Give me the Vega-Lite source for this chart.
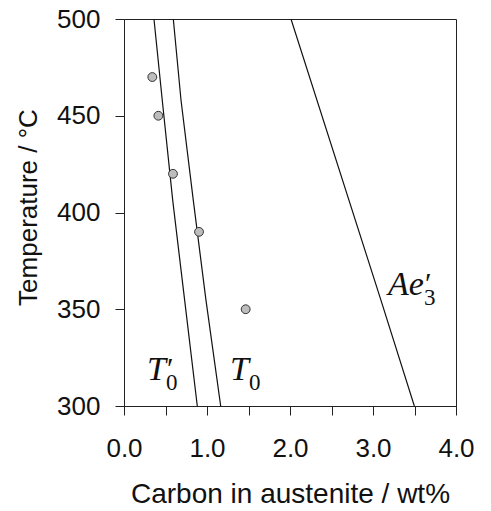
{
  "$schema": "https://vega.github.io/schema/vega-lite/v6.json",
  "width": 332,
  "height": 387,
  "autosize": "none",
  "padding": {"left": 124, "top": 19, "right": 35, "bottom": 105},
  "background": "white",
  "config": {
    "view": {"stroke": "#222", "strokeWidth": 1},
    "axis": {
      "grid": false,
      "domainColor": "#222",
      "tickColor": "#222",
      "tickSize": 9,
      "labelFlush": false,
      "labelOverlap": false,
      "labelFont": "Liberation Sans",
      "titleFont": "Liberation Sans",
      "labelColor": "#111",
      "titleColor": "#111",
      "titleFontWeight": "normal"
    }
  },
  "datasets": {
    "curves": [
      {"series": "T0p", "C": 0.361, "T": 500},
      {"series": "T0p", "C": 0.461, "T": 458},
      {"series": "T0p", "C": 0.587, "T": 406.3},
      {"series": "T0p", "C": 0.731, "T": 354.6},
      {"series": "T0p", "C": 0.883, "T": 300},
      {"series": "T0", "C": 0.594, "T": 500},
      {"series": "T0", "C": 0.687, "T": 458},
      {"series": "T0", "C": 0.835, "T": 406.3},
      {"series": "T0", "C": 0.988, "T": 354.6},
      {"series": "T0", "C": 1.165, "T": 300},
      {"series": "Ae3p", "C": 2.012, "T": 500},
      {"series": "Ae3p", "C": 3.084, "T": 356.3},
      {"series": "Ae3p", "C": 3.498, "T": 300}
    ],
    "points": [
      {"C": 0.341, "T": 470},
      {"C": 0.414, "T": 450},
      {"C": 0.590, "T": 420},
      {"C": 0.904, "T": 390},
      {"C": 1.466, "T": 350}
    ],
    "labels": [
      {"C": 0.506, "T": 313.3, "main": "T", "prime": "′", "sub": "0"},
      {"C": 1.506, "T": 313.3, "main": "T", "prime": "", "sub": "0"},
      {"C": 3.614, "T": 357.2, "main": "Ae", "prime": "′", "sub": "3"}
    ]
  },
  "encoding": {
    "x": {
      "field": "C", "type": "quantitative",
      "scale": {"domain": [0, 4], "nice": false, "zero": false},
      "axis": {
        "values": [0, 0.5, 1, 1.5, 2, 2.5, 3, 3.5, 4],
        "labelExpr": "datum.value % 1 == 0 ? format(datum.value, '.1f') : ''",
        "labelFontSize": 26,
        "labelBaseline": "alphabetic",
        "labelPadding": 41,
        "title": "Carbon in austenite / wt%",
        "titleFontSize": 28,
        "titleX": 166,
        "titleY": 96,
        "titleBaseline": "alphabetic",
        "titleAlign": "center"
      }
    },
    "y": {
      "field": "T", "type": "quantitative",
      "scale": {"domain": [300, 500], "nice": false, "zero": false},
      "axis": {
        "values": [300, 350, 400, 450, 500],
        "format": "d",
        "labelFontSize": 26,
        "labelPadding": 15,
        "labelBaseline": "middle",
        "title": "Temperature / °C",
        "titleFontSize": 26,
        "titleAngle": -90,
        "titleX": -88,
        "titleY": 188,
        "titleBaseline": "alphabetic",
        "titleAlign": "center"
      }
    }
  },
  "layer": [
    {
      "data": {"name": "curves"},
      "mark": {"type": "line", "color": "#111", "strokeWidth": 1.2, "clip": true},
      "encoding": {"detail": {"field": "series", "type": "nominal"}, "order": {"field": "T", "type": "quantitative"}}
    },
    {
      "data": {"name": "points"},
      "mark": {"type": "circle", "size": 78, "fill": "#bdbdbd", "stroke": "#333", "strokeWidth": 1, "opacity": 1}
    },
    {
      "data": {"name": "labels"},
      "mark": {"type": "text", "align": "right", "baseline": "alphabetic", "font": "Liberation Serif", "fontStyle": "italic", "fontSize": 34, "color": "#111"},
      "encoding": {"text": {"field": "main"}}
    },
    {
      "data": {"name": "labels"},
      "mark": {"type": "text", "align": "left", "baseline": "alphabetic", "font": "Liberation Serif", "fontSize": 30, "dx": 1, "dy": -2, "color": "#111"},
      "encoding": {"text": {"field": "prime"}}
    },
    {
      "data": {"name": "labels"},
      "mark": {"type": "text", "align": "left", "baseline": "alphabetic", "font": "Liberation Serif", "fontSize": 23, "dy": 10, "color": "#111"},
      "encoding": {"text": {"field": "sub"}}
    }
  ]
}
